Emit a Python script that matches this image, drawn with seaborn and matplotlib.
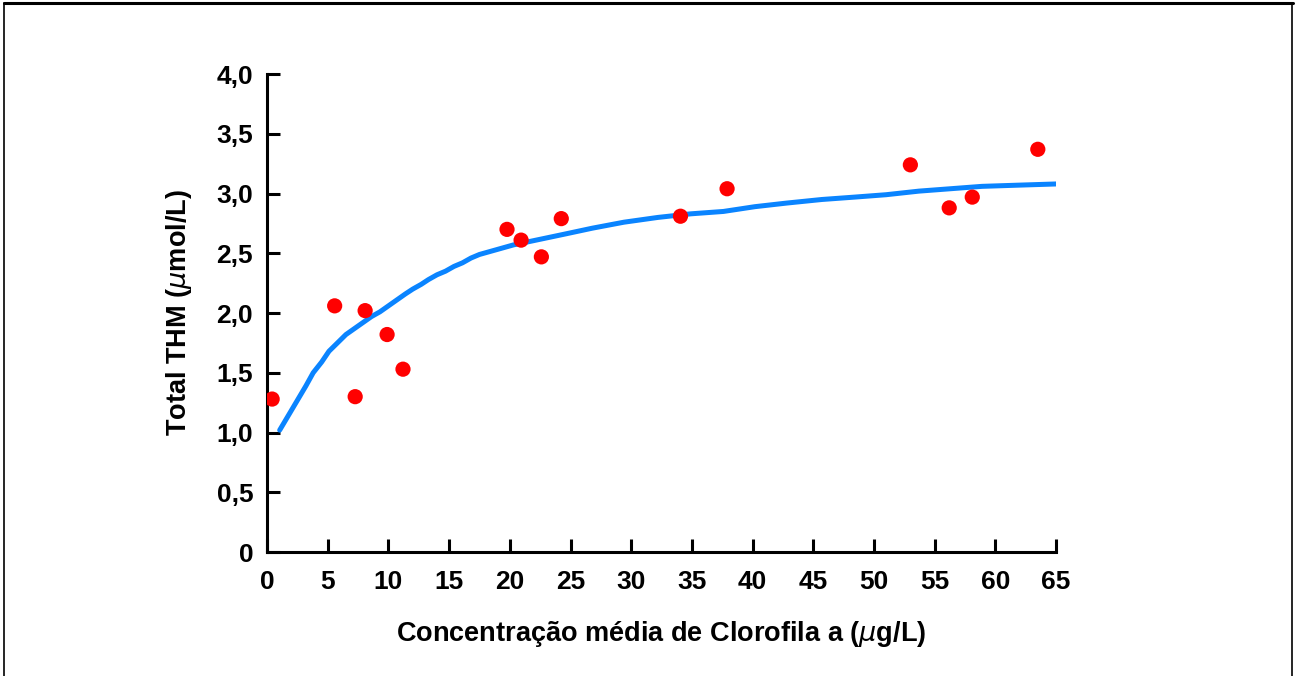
import matplotlib
matplotlib.use("Agg")
import matplotlib.pyplot as plt
from matplotlib.lines import Line2D
import seaborn as sns
import pandas as pd

# Measured samples
clorofila = [0.42, 5.57, 7.26, 8.08, 9.89, 11.2, 19.77, 20.93, 22.6, 24.24,
             34.06, 37.9, 53.0, 56.2, 58.1, 63.5]
thm = [1.28, 2.06, 1.30, 2.02, 1.82, 1.53, 2.70, 2.61, 2.47, 2.79,
       2.81, 3.04, 3.24, 2.88, 2.97, 3.37]

# Fitted curve
curva_x = [1.04, 1.8, 2.5, 3.2, 3.8, 4.5, 5.1, 5.8, 6.5, 7.2, 7.9, 8.6, 9.3,
           10.0, 10.7, 11.4, 12.0, 12.7, 13.3, 14.0, 14.7, 15.4, 16.1, 16.8,
           17.5, 18.2, 18.9, 20.3, 21.7, 23.1, 24.5, 26.8, 29.4, 32.2, 34.9,
           37.6, 40.2, 42.8, 45.7, 48.4, 51.0, 53.7, 56.3, 58.9, 61.9, 65.0]
curva_y = [1.02, 1.15, 1.27, 1.39, 1.50, 1.59, 1.68, 1.75, 1.82, 1.87, 1.92,
           1.97, 2.01, 2.06, 2.11, 2.16, 2.20, 2.24, 2.28, 2.32, 2.35, 2.39,
           2.42, 2.46, 2.49, 2.51, 2.53, 2.57, 2.60, 2.63, 2.66, 2.71, 2.76,
           2.80, 2.83, 2.85, 2.89, 2.92, 2.95, 2.97, 2.99, 3.02, 3.04, 3.06,
           3.07, 3.08]

x_ticks = list(range(0, 70, 5))
y_ticks = [0, 0.5, 1.0, 1.5, 2.0, 2.5, 3.0, 3.5, 4.0]
y_tick_labels = ["0", "0,5", "1,0", "1,5", "2,0", "2,5", "3,0", "3,5", "4,0"]

pontos = pd.DataFrame({"x": clorofila, "y": thm})
curva = pd.DataFrame({"x": curva_x, "y": curva_y})

sns.set_theme(style="white")
plt.rcParams["font.family"] = ["Liberation Sans", "DejaVu Sans"]
plt.rcParams["text.color"] = "black"
plt.rcParams["axes.labelcolor"] = "black"

fig = plt.figure(figsize=(12.97, 6.76), dpi=100)
ax = fig.add_axes([0.2059, 0.1834, 0.6083, 0.7071])

sns.lineplot(data=curva, x="x", y="y", ax=ax, color="#0a84ff", linewidth=3.6,
             estimator=None, sort=False, zorder=2)
sns.scatterplot(data=pontos, x="x", y="y", ax=ax, color="#ff0000", s=120,
                edgecolor="none", zorder=3)

ax.set_xlim(0, 65)
ax.set_ylim(0, 4.0)
ax.set_xticks(x_ticks)
ax.set_xticklabels([str(t) for t in x_ticks])
ax.set_yticks(y_ticks)
ax.set_yticklabels(y_tick_labels)

for side in ["top", "right"]:
    ax.spines[side].set_visible(False)
for side in ["left", "bottom"]:
    ax.spines[side].set_linewidth(2.2)
    ax.spines[side].set_color("black")

ax.tick_params(axis="both", direction="in", length=9.5, width=2.2,
               colors="black", labelsize=19, bottom=True, left=True)
ax.tick_params(axis="x", pad=13)
ax.tick_params(axis="y", pad=10)
for lab in ax.get_xticklabels() + ax.get_yticklabels():
    lab.set_fontweight("bold")

label_font = {"family": ["Liberation Sans Narrow", "Liberation Sans", "DejaVu Sans"],
              "weight": "bold", "size": 19.5, "color": "black"}
ax.set_xlabel("Concentração média de Clorofila a ($\\mu$g/L)", fontdict=label_font,
              labelpad=18)
ax.set_ylabel("Total THM ($\\mu$mol/L)", fontdict=label_font, labelpad=16)

# Outer frame
fig.add_artist(Line2D([0.003, 0.997], [0.995, 0.995], transform=fig.transFigure,
                      color="black", linewidth=2.2))
fig.add_artist(Line2D([0.003, 0.003], [0.0, 0.995], transform=fig.transFigure,
                      color="black", linewidth=1.2))
fig.add_artist(Line2D([0.9965, 0.9965], [0.0, 0.995], transform=fig.transFigure,
                      color="black", linewidth=1.2))

fig.savefig("out.png", dpi=100, facecolor="white")
